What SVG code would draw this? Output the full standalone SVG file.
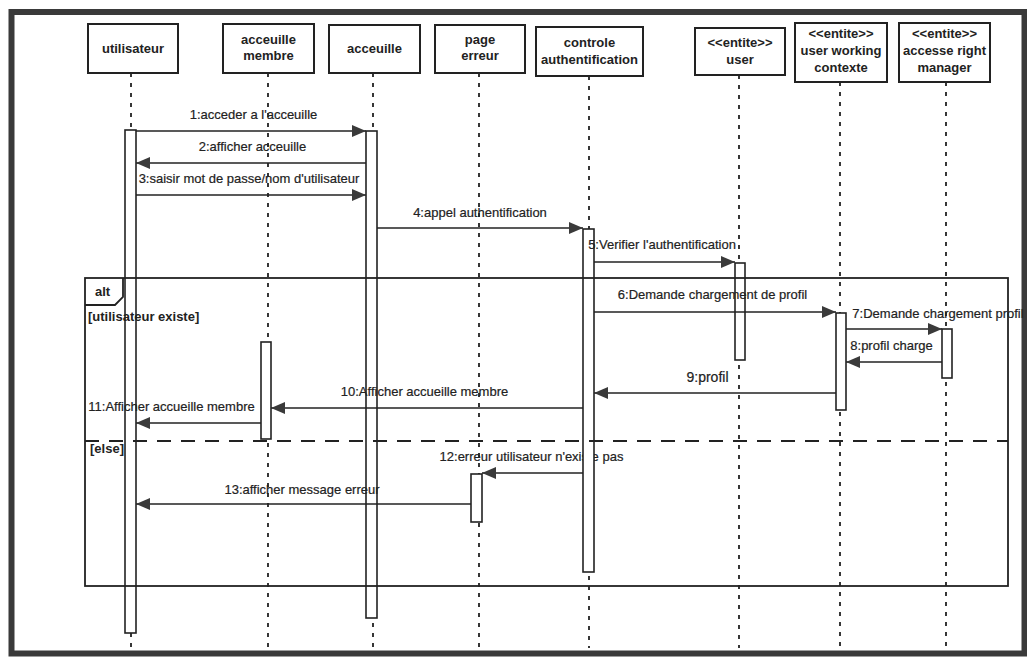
<svg xmlns="http://www.w3.org/2000/svg" width="1027" height="657" viewBox="0 0 1027 657">
<style>
.box{fill:#fff;stroke:#222;stroke-width:2}
.hd{font-family:"Liberation Sans",Arial,sans-serif;font-size:13px;font-weight:bold;fill:#222;text-anchor:middle}
.life{stroke:#222;stroke-width:1.8;stroke-dasharray:4 6}
.act{fill:#fff;stroke:#222;stroke-width:1.6}
.msg{stroke:#222;stroke-width:1.6;fill:none;marker-end:url(#ah)}
.lbl{font-family:"Liberation Sans",Arial,sans-serif;font-size:13px;fill:#222;text-anchor:middle;stroke:#222;stroke-width:0.2}
.frm{fill:none;stroke:#222;stroke-width:1.8}
.grd{font-family:"Liberation Sans",Arial,sans-serif;font-size:13px;font-weight:bold;fill:#222}
</style>
<defs>
<marker id="ah" markerWidth="14" markerHeight="12" refX="14" refY="6" orient="auto" markerUnits="userSpaceOnUse">
<path d="M0,0 L14,6 L0,12 z" fill="#3a3a3a"/>
</marker>
</defs>
<rect x="0" y="0" width="1027" height="657" fill="#fff"/>
<rect x="11.5" y="12" width="1013" height="641.5" fill="none" stroke="#3a3a3a" stroke-width="6"/>

<g id="lifelines">
<line class="life" x1="131" y1="73" x2="131" y2="648"/>
<line class="life" x1="268" y1="73" x2="268" y2="648"/>
<line class="life" x1="373" y1="73" x2="373" y2="648"/>
<line class="life" x1="479" y1="73" x2="479" y2="648"/>
<line class="life" x1="589" y1="76" x2="589" y2="648"/>
<line class="life" x1="739" y1="75" x2="739" y2="648"/>
<line class="life" x1="840" y1="82" x2="840" y2="648"/>
<line class="life" x1="946" y1="82" x2="946" y2="648"/>
</g>

<g id="n-utilisateur"><rect class="box" x="88" y="24" width="90" height="49"/><text class="hd" x="133" y="53">utilisateur</text></g>
<g id="n-acceuille-membre"><rect class="box" x="223" y="24" width="91" height="49"/><text class="hd" x="268.5" y="44">acceuille</text><text class="hd" x="268.5" y="60">membre</text></g>
<g id="n-acceuille"><rect class="box" x="329" y="25" width="91" height="48"/><text class="hd" x="374.5" y="53">acceuille</text></g>
<g id="n-page-erreur"><rect class="box" x="435" y="25" width="90" height="48"/><text class="hd" x="480" y="44">page</text><text class="hd" x="480" y="60">erreur</text></g>
<g id="n-controle"><rect class="box" x="536" y="27" width="107" height="49"/><text class="hd" x="589.5" y="47">controle</text><text class="hd" x="589.5" y="64">authentification</text></g>
<g id="n-user"><rect class="box" x="695" y="28" width="90" height="47"/><text class="hd" x="740" y="47">&lt;&lt;entite&gt;&gt;</text><text class="hd" x="740" y="64">user</text></g>
<g id="n-user-working"><rect class="box" x="795" y="23" width="92" height="59"/><text class="hd" x="841" y="38">&lt;&lt;entite&gt;&gt;</text><text class="hd" x="841" y="55">user working</text><text class="hd" x="841" y="72">contexte</text></g>
<g id="n-accesse"><rect class="box" x="899" y="23" width="91" height="59"/><text class="hd" x="944.5" y="38">&lt;&lt;entite&gt;&gt;</text><text class="hd" x="944.5" y="55">accesse right</text><text class="hd" x="944.5" y="72">manager</text></g>

<text class="lbl" x="531.5" y="461">12:erreur utilisateur n'existe pas</text>

<g id="activations">
<rect class="act" x="125" y="130" width="11" height="503"/>
<rect class="act" x="366" y="131" width="11" height="487"/>
<rect class="act" x="261" y="342" width="10" height="97"/>
<rect class="act" x="471" y="474" width="11" height="48"/>
<rect class="act" x="583" y="229" width="11" height="343"/>
<rect class="act" x="735" y="263" width="10" height="97"/>
<rect class="act" x="836" y="313" width="10" height="97"/>
<rect class="act" x="942" y="329" width="10" height="49"/>
</g>

<g id="alt-fragment">
<rect class="frm" x="85" y="278" width="923" height="308"/>
<path class="frm" d="M85,305 L115,305 L123,297 L123,278"/>
<text class="grd" x="95" y="296">alt</text>
<text class="grd" x="88" y="321">[utilisateur existe]</text>
<line x1="85" y1="441" x2="1008" y2="441" stroke="#222" stroke-width="2" stroke-dasharray="14 10"/>
<text class="grd" x="90" y="453">[else]</text>
</g>

<g id="connectors">
<line class="msg" x1="136" y1="131" x2="366" y2="131"/>
<line class="msg" x1="366" y1="163" x2="136" y2="163"/>
<line class="msg" x1="136" y1="195" x2="366" y2="195"/>
<line class="msg" x1="377" y1="228" x2="583" y2="228"/>
<line class="msg" x1="594" y1="262" x2="735" y2="262"/>
<line class="msg" x1="594" y1="312" x2="836" y2="312"/>
<line class="msg" x1="846" y1="329" x2="942" y2="329"/>
<line class="msg" x1="942" y1="362" x2="846" y2="362"/>
<line class="msg" x1="836" y1="393" x2="594" y2="393"/>
<line class="msg" x1="583" y1="408" x2="271" y2="408"/>
<line class="msg" x1="261" y1="423" x2="136" y2="423"/>
<line class="msg" x1="583" y1="473" x2="482" y2="473"/>
<line class="msg" x1="471" y1="504" x2="136" y2="504"/>
</g>

<g id="labels">
<text class="lbl" x="253.5" y="119">1:acceder a l'acceuille</text>
<text class="lbl" x="252.5" y="151">2:afficher acceuille</text>
<text class="lbl" x="249" y="183">3:saisir mot de passe/nom d'utilisateur</text>
<text class="lbl" x="480" y="217">4:appel authentification</text>
<text class="lbl" x="662" y="249">5:Verifier l'authentification</text>
<text class="lbl" x="712.5" y="299">6:Demande chargement de profil</text>
<text class="lbl" x="938" y="318">7:Demande chargement profil</text>
<text class="lbl" x="891.5" y="350">8:profil charge</text>
<text class="lbl" x="707.5" y="382" style="font-size:14px">9:profil</text>
<text class="lbl" x="424.5" y="396">10:Afficher accueille membre</text>
<text class="lbl" x="171.5" y="411">11:Afficher accueille membre</text>
<text class="lbl" x="302" y="494">13:afficher message erreur</text>
</g>
</svg>
